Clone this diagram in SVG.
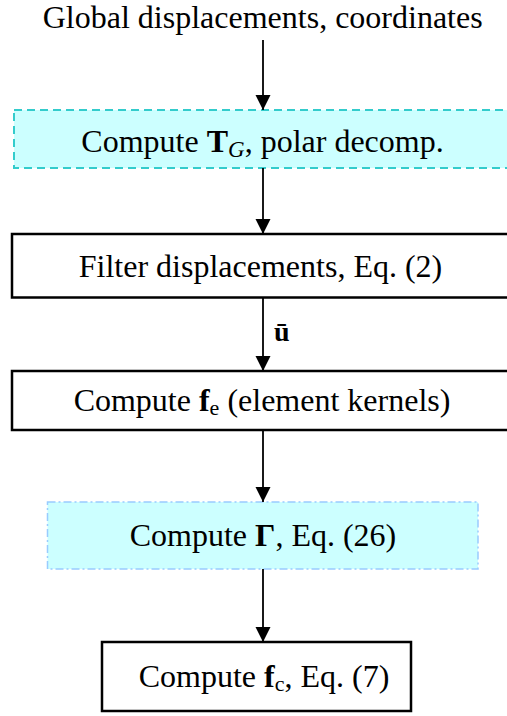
<svg xmlns="http://www.w3.org/2000/svg" width="507" height="716" viewBox="0 0 507 716">
<style>
text{font-family:"Liberation Serif","Times New Roman",serif;fill:#000}
.lbl{font-size:32px;text-anchor:middle}
.plain{fill:#fff;stroke:#000;stroke-width:2.5}
.cyan{fill:#ccffff;stroke:#33cccc;stroke-width:2;stroke-dasharray:8 5}
.blue{fill:#ccffff;stroke:#99ccff;stroke-width:1.5;stroke-dasharray:8 3 2 3}
.edge{stroke:#000;stroke-width:1.8;fill:none;marker-end:url(#ah)}
</style>
<defs>
<marker id="ah" markerUnits="userSpaceOnUse" markerWidth="16" markerHeight="16" refX="15" refY="7.5" orient="auto">
<path d="M0,0 L15,7.5 L0,15 Z" fill="#000"/>
</marker>
</defs>
<rect width="507" height="716" fill="#fff"/>
<g id="input">
<text x="262.7" y="28" class="lbl">Global displacements, coordinates</text>
</g>
<g id="computeTG">
<rect x="14" y="110" width="500" height="58" class="cyan"/>
<text x="262.5" y="152" class="lbl">Compute <tspan font-weight="bold">T</tspan><tspan font-style="italic" font-size="23" dy="5">G</tspan><tspan dy="-5">, polar decomp.</tspan></text>
</g>
<g id="filter">
<rect x="12" y="234" width="500" height="63.5" class="plain"/>
<text x="260.5" y="277" class="lbl">Filter displacements, Eq. (2)</text>
</g>
<g id="computeFe">
<rect x="12" y="371" width="500" height="59" class="plain"/>
<text x="262" y="411" class="lbl">Compute <tspan font-weight="bold">f</tspan><tspan font-size="22" dy="4">e</tspan><tspan dy="-4"> (element kernels)</tspan></text>
</g>
<g id="computeGamma">
<rect x="47.5" y="502" width="430.5" height="67" class="blue"/>
<text x="263" y="546" class="lbl">Compute <tspan font-weight="bold">Γ</tspan>, Eq. (26)</text>
</g>
<g id="computeFc">
<rect x="102" y="642" width="309" height="69" class="plain"/>
<text x="264" y="687" class="lbl">Compute <tspan font-weight="bold">f</tspan><tspan font-size="22" dy="4">c</tspan><tspan dy="-4">, Eq. (7)</tspan></text>
</g>
<g id="connectors">
<line x1="263" y1="40" x2="263" y2="110" class="edge"/>
<line x1="263" y1="168" x2="263" y2="234" class="edge"/>
<line x1="263" y1="298" x2="263" y2="371" class="edge"/>
<line x1="263" y1="430" x2="263" y2="502" class="edge"/>
<line x1="263" y1="569" x2="263" y2="642" class="edge"/>
<text x="274" y="341" font-size="28" font-weight="bold">ū</text>
</g>
</svg>
